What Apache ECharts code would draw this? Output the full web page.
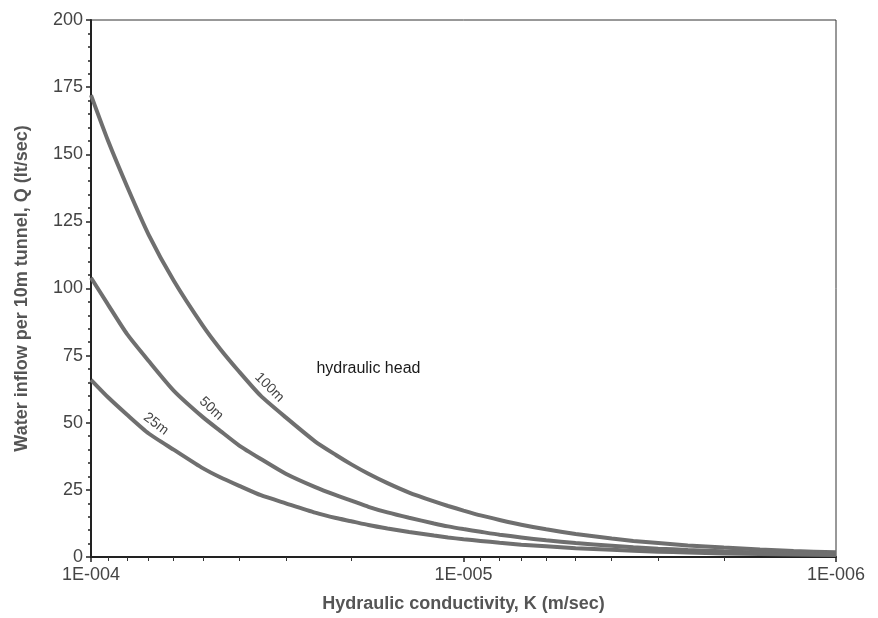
<!DOCTYPE html>
<html>
<head>
<meta charset="utf-8">
<script src="https://cdn.jsdelivr.net/npm/echarts@6/dist/echarts.min.js"></script>
<style>
html,body{margin:0;padding:0;background:#fff;}
#chart{width:878px;height:618px;}
</style>
</head>
<body>
<div id="chart"></div>
<script>
// Hydraulic conductivity K (m/sec)
const conductivity = [1e-4, 9e-5, 8e-5, 7e-5, 6e-5, 5e-5, 4.5e-5, 4e-5, 3.5e-5, 3e-5, 2.5e-5, 2.2e-5, 2e-5, 1.8e-5, 1.6e-5, 1.4e-5, 1.2e-5, 1.1e-5, 1e-5,
                      9e-6, 8e-6, 7e-6, 6e-6, 5e-6, 4e-6, 3.5e-6, 3e-6, 2.5e-6, 2e-6, 1.6e-6, 1.3e-6, 1e-6];
// Water inflow Q (lt/sec) per hydraulic head
const head100 = [172, 155, 138, 120, 103, 86, 77.5, 69, 60, 52, 43, 38, 34.5, 31, 27.5, 24, 20.7, 19, 17.3,
                 15.5, 13.8, 12, 10.3, 8.6, 6.9, 6, 5.2, 4.3, 3.5, 2.8, 2.2, 1.8];
const head50  = [104, 94, 83, 73, 62, 52, 47, 41.5, 36.5, 31, 26, 23, 21, 18.7, 16.6, 14.6, 12.5, 11.4, 10.4,
                 9.4, 8.3, 7.3, 6.2, 5.2, 4.2, 3.6, 3.1, 2.6, 2.1, 1.7, 1.4, 1.1];
const head25  = [66, 59.5, 53, 46, 40, 33, 29.7, 26.5, 23, 20, 16.5, 14.5, 13.3, 11.9, 10.6, 9.3, 8, 7.3, 6.6,
                 6, 5.3, 4.6, 4, 3.3, 2.7, 2.3, 2, 1.7, 1.3, 1.1, 0.9, 0.7];
const seriesNames = ['100m', '50m', '25m'];
const majorTicksX = [1e-6, 1e-5, 1e-4];
const minorTicksX = [2e-6,3e-6,4e-6,5e-6,6e-6,7e-6,8e-6,9e-6,2e-5,3e-5,4e-5,5e-5,6e-5,7e-5,8e-5,9e-5];
// curve label anchors (K where each curve label sits)
const labelAnchorK = [3.5e-5, 5e-5, 6.5e-5];
const noteText = 'hydraulic head';
const noteAt = [1.8e-5, 70];

const chart = echarts.init(document.getElementById('chart'));
const pairs = arr => conductivity.map((k, i) => [k, arr[i]]);
const lineColor = '#6f6f6f';
const fmt = v => '1E-' + String(Math.round(-Math.log10(v))).padStart(3, '0');

const option = {
  backgroundColor: '#fff',
  animation: false,
  grid: { left: 91, right: 42, top: 20, bottom: 61, show: true, borderColor: '#333', borderWidth: 1, backgroundColor: 'transparent' },
  xAxis: [{
    type: 'log', logBase: 10, min: 1e-6, max: 1e-4, inverse: true,
    name: 'Hydraulic conductivity, K (m/sec)', nameLocation: 'middle', nameGap: 38,
    nameTextStyle: { fontFamily: 'Liberation Sans', fontSize: 18, fontWeight: 'bold', color: '#555' },
    axisLine: { show: true, lineStyle: { color: '#222', width: 2 } },
    axisTick: { show: true, length: 5, lineStyle: { color: '#222', width: 1.5 }, customValues: majorTicksX },
    axisLabel: { fontFamily: 'Liberation Sans', fontSize: 18, color: '#444', margin: 9, formatter: fmt, customValues: majorTicksX },
    splitLine: { show: false }
  }, {
    type: 'log', logBase: 10, min: 1e-6, max: 1e-4, inverse: true, position: 'bottom',
    axisLine: { show: false },
    axisTick: { show: true, length: 4, lineStyle: { color: '#333', width: 1 }, customValues: minorTicksX },
    axisLabel: { show: false },
    splitLine: { show: false }
  }],
  yAxis: {
    type: 'value', min: 0, max: 200, interval: 25,
    name: 'Water inflow per 10m tunnel, Q (lt/sec)', nameLocation: 'middle', nameGap: 60,
    nameTextStyle: { fontFamily: 'Liberation Sans', fontSize: 18, fontWeight: 'bold', color: '#555' },
    axisLine: { show: true, lineStyle: { color: '#222', width: 2 } },
    axisTick: { show: true, length: 5, lineStyle: { color: '#222', width: 1.5 } },
    minorTick: { show: true, splitNumber: 5, length: 3, lineStyle: { color: '#222', width: 1.5 } },
    axisLabel: { fontFamily: 'Liberation Sans', fontSize: 18, color: '#444', margin: 8 },
    splitLine: { show: false }
  },
  series: [head100, head50, head25].map((arr, i) => ({
    name: seriesNames[i], type: 'line', xAxisIndex: 0, data: pairs(arr),
    smooth: 0.2, showSymbol: false, symbol: 'none',
    lineStyle: { color: lineColor, width: 4 }
  }))
};
chart.setOption(option);

// place the rotated curve labels and the note using the chart's scales
const seriesArrays = [head100, head50, head25];
const graphics = [];
labelAnchorK.forEach((k, i) => {
  const arr = seriesArrays[i];
  let idx = 0, best = Infinity;
  conductivity.forEach((c, j) => { const d = Math.abs(Math.log10(c) - Math.log10(k)); if (d < best) { best = d; idx = j; } });
  const p = chart.convertToPixel({ gridIndex: 0 }, [conductivity[idx], arr[idx]]);
  const p2 = chart.convertToPixel({ gridIndex: 0 }, [conductivity[idx + 1], arr[idx + 1]]);
  const ang = Math.atan2(p2[1] - p[1], p2[0] - p[0]) + 0.08;
  const d = 12;
  graphics.push({
    type: 'text', x: p[0] + Math.sin(ang) * d, y: p[1] - Math.cos(ang) * d, rotation: -ang,
    style: { text: seriesNames[i], fontFamily: 'Liberation Sans', fontSize: 14, fill: '#444', align: 'center', verticalAlign: 'middle' }
  });
});
const hp = chart.convertToPixel({ gridIndex: 0 }, noteAt);
graphics.push({
  type: 'text', x: hp[0], y: hp[1],
  style: { text: noteText, fontFamily: 'Liberation Sans', fontSize: 16, fill: '#1a1a1a', align: 'center', verticalAlign: 'middle' }
});
chart.setOption({ graphic: graphics });
</script>
</body>
</html>
